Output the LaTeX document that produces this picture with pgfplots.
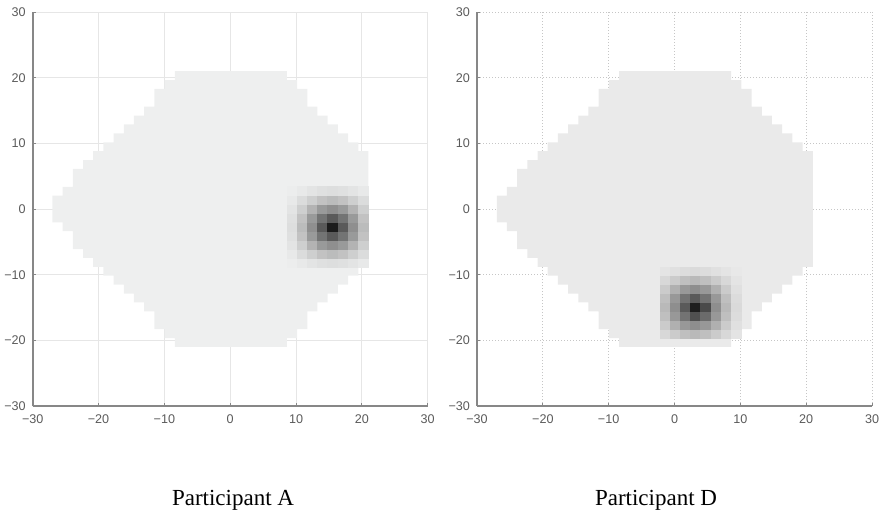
\documentclass[border=0pt]{standalone}
\usepackage{fontspec}
\setmainfont{Liberation Serif}
\newfontfamily\tickfont{Liberation Sans}
\usepackage{pgfplots}
\pgfplotsset{compat=1.18}
\definecolor{axgray}{RGB}{135,135,135}
\definecolor{tickgray}{RGB}{90,90,90}
\definecolor{gridgray}{RGB}{230,230,230}
\definecolor{shapeA}{RGB}{238,239,239}
\definecolor{shapeD}{RGB}{234,234,234}

\pgfplotsset{
  vf/.style={
    scale only axis, width=197.5pt, height=197pt,
    xmin=-30, xmax=30, ymin=-30, ymax=30,
    axis x line=bottom, axis y line=left,
    axis line style={-, draw=axgray, line width=0.8pt},
    xtick={-30,-20,-10,0,10,20,30}, ytick={-30,-20,-10,0,10,20,30},
    xticklabels={−30,−20,−10,0,10,20,30},
    yticklabels={−30,−20,−10,0,10,20,30},
    tick align=inside, major tick length=1.6pt,
    tick style={draw=axgray, line width=0.5pt},
    ticklabel style={font=\tickfont\fontsize{6.3}{7}\selectfont, text=tickgray},
    xticklabel style={yshift=-1pt},
    grid=major,
    point meta min=0, point meta max=1,
  },
  % one grid cell: 1.548 x 1.355 units
  cell/.style={scatter, only marks, point meta=explicit, mark=square*, mark size=2.55pt,
    scatter/use mapped color={draw=mapped color, fill=mapped color},
    every mark/.append style={yscale=0.873, line width=0.3pt}},
}

\begin{document}
\begin{tikzpicture}
\path[use as bounding box] (0,0) rectangle (443.5pt,257pt);

% Participant A
\begin{axis}[vf, at={(16.35pt,54pt)}, anchor=south west,
  grid style={draw=gridgray, line width=0.5pt},
  colormap={blobA}{rgb255(0cm)=(238,239,239) rgb255(1cm)=(28,28,28)}]
\addplot[fill=shapeA, draw=none] coordinates {
(-27,-2.032) (-27,2.032) (-25.452,2.032) (-25.452,3.387) (-23.903,3.387) (-23.903,6.097)
(-22.355,6.097) (-22.355,7.452) (-20.806,7.452) (-20.806,8.806) (-19.258,8.806) (-19.258,10.161)
(-17.710,10.161) (-17.710,11.516) (-16.161,11.516) (-16.161,12.871) (-14.613,12.871) (-14.613,14.226)
(-13.065,14.226) (-13.065,15.581) (-11.516,15.581) (-11.516,18.290) (-9.968,18.290) (-9.968,19.645)
(-8.419,19.645) (-8.419,21) (8.613,21) (8.613,19.645) (10.161,19.645) (10.161,18.290)
(11.710,18.290) (11.710,15.581) (13.258,15.581) (13.258,14.226) (14.806,14.226) (14.806,12.871)
(16.355,12.871) (16.355,11.516) (17.903,11.516) (17.903,10.161) (19.452,10.161) (19.452,8.806)
(21,8.806) (21,-8.806) (19.452,-8.806) (19.452,-10.161) (17.903,-10.161) (17.903,-11.516)
(16.355,-11.516) (16.355,-12.871) (14.806,-12.871) (14.806,-14.226) (13.258,-14.226) (13.258,-15.581)
(11.710,-15.581) (11.710,-18.290) (10.161,-18.290) (10.161,-19.645) (8.613,-19.645) (8.613,-21)
(-8.419,-21) (-8.419,-19.645) (-9.968,-19.645) (-9.968,-18.290) (-11.516,-18.290) (-11.516,-15.581)
(-13.065,-15.581) (-13.065,-14.226) (-14.613,-14.226) (-14.613,-12.871) (-16.161,-12.871) (-16.161,-11.516)
(-17.710,-11.516) (-17.710,-10.161) (-19.258,-10.161) (-19.258,-8.806) (-20.806,-8.806) (-20.806,-7.452)
(-22.355,-7.452) (-22.355,-6.097) (-23.903,-6.097) (-23.903,-3.387) (-25.452,-3.387) (-25.452,-2.032)
(-27,-2.032)};
% blob, cell centres
\addplot[cell] table[meta=c] {
x y c
9.387 -8.129 0.01
10.935 -8.129 0.03
12.484 -8.129 0.05
14.032 -8.129 0.07
15.581 -8.129 0.08
17.129 -8.129 0.07
18.677 -8.129 0.05
20.226 -8.129 0.03
9.387 -6.774 0.03
10.935 -6.774 0.09
12.484 -6.774 0.15
14.032 -6.774 0.21
15.581 -6.774 0.24
17.129 -6.774 0.21
18.677 -6.774 0.15
20.226 -6.774 0.09
9.387 -5.419 0.05
10.935 -5.419 0.15
12.484 -5.419 0.28
14.032 -5.419 0.40
15.581 -5.419 0.45
17.129 -5.419 0.40
18.677 -5.419 0.28
20.226 -5.419 0.15
9.387 -4.065 0.07
10.935 -4.065 0.21
12.484 -4.065 0.40
14.032 -4.065 0.58
15.581 -4.065 0.70
17.129 -4.065 0.58
18.677 -4.065 0.40
20.226 -4.065 0.21
9.387 -2.710 0.08
10.935 -2.710 0.24
12.484 -2.710 0.45
14.032 -2.710 0.70
15.581 -2.710 1.00
17.129 -2.710 0.70
18.677 -2.710 0.45
20.226 -2.710 0.24
9.387 -1.355 0.07
10.935 -1.355 0.21
12.484 -1.355 0.40
14.032 -1.355 0.58
15.581 -1.355 0.70
17.129 -1.355 0.58
18.677 -1.355 0.40
20.226 -1.355 0.21
9.387 0 0.05
10.935 0 0.15
12.484 0 0.28
14.032 0 0.40
15.581 0 0.45
17.129 0 0.40
18.677 0 0.28
20.226 0 0.15
9.387 1.355 0.03
10.935 1.355 0.09
12.484 1.355 0.15
14.032 1.355 0.21
15.581 1.355 0.24
17.129 1.355 0.21
18.677 1.355 0.15
20.226 1.355 0.09
9.387 2.710 0.01
10.935 2.710 0.03
12.484 2.710 0.05
14.032 2.710 0.07
15.581 2.710 0.08
17.129 2.710 0.07
18.677 2.710 0.05
20.226 2.710 0.03
};
\end{axis}

% Participant D
\begin{axis}[vf, at={(238.5pt,54pt)}, anchor=south west,
  grid style={draw=gray!45, line width=0.5pt, densely dotted},
  colormap={blobD}{rgb255(0cm)=(234,234,234) rgb255(1cm)=(30,30,30)}]
\addplot[fill=shapeD, draw=none] coordinates {
(-27,-2.032) (-27,2.032) (-25.452,2.032) (-25.452,3.387) (-23.903,3.387) (-23.903,6.097)
(-22.355,6.097) (-22.355,7.452) (-20.806,7.452) (-20.806,8.806) (-19.258,8.806) (-19.258,10.161)
(-17.710,10.161) (-17.710,11.516) (-16.161,11.516) (-16.161,12.871) (-14.613,12.871) (-14.613,14.226)
(-13.065,14.226) (-13.065,15.581) (-11.516,15.581) (-11.516,18.290) (-9.968,18.290) (-9.968,19.645)
(-8.419,19.645) (-8.419,21) (8.613,21) (8.613,19.645) (10.161,19.645) (10.161,18.290)
(11.710,18.290) (11.710,15.581) (13.258,15.581) (13.258,14.226) (14.806,14.226) (14.806,12.871)
(16.355,12.871) (16.355,11.516) (17.903,11.516) (17.903,10.161) (19.452,10.161) (19.452,8.806)
(21,8.806) (21,-8.806) (19.452,-8.806) (19.452,-10.161) (17.903,-10.161) (17.903,-11.516)
(16.355,-11.516) (16.355,-12.871) (14.806,-12.871) (14.806,-14.226) (13.258,-14.226) (13.258,-15.581)
(11.710,-15.581) (11.710,-18.290) (10.161,-18.290) (10.161,-19.645) (8.613,-19.645) (8.613,-21)
(-8.419,-21) (-8.419,-19.645) (-9.968,-19.645) (-9.968,-18.290) (-11.516,-18.290) (-11.516,-15.581)
(-13.065,-15.581) (-13.065,-14.226) (-14.613,-14.226) (-14.613,-12.871) (-16.161,-12.871) (-16.161,-11.516)
(-17.710,-11.516) (-17.710,-10.161) (-19.258,-10.161) (-19.258,-8.806) (-20.806,-8.806) (-20.806,-7.452)
(-22.355,-7.452) (-22.355,-6.097) (-23.903,-6.097) (-23.903,-3.387) (-25.452,-3.387) (-25.452,-2.032)
(-27,-2.032)};
\addplot[cell] table[meta=c] {
x y c
-1.452 -18.968 0.09
0.097 -18.968 0.15
1.645 -18.968 0.21
3.194 -18.968 0.24
4.742 -18.968 0.21
6.290 -18.968 0.15
7.839 -18.968 0.09
9.387 -18.968 0.03
-1.452 -17.613 0.15
0.097 -17.613 0.28
1.645 -17.613 0.40
3.194 -17.613 0.45
4.742 -17.613 0.40
6.290 -17.613 0.28
7.839 -17.613 0.15
9.387 -17.613 0.05
-1.452 -16.258 0.21
0.097 -16.258 0.40
1.645 -16.258 0.58
3.194 -16.258 0.75
4.742 -16.258 0.62
6.290 -16.258 0.40
7.839 -16.258 0.21
9.387 -16.258 0.07
-1.452 -14.903 0.24
0.097 -14.903 0.45
1.645 -14.903 0.70
3.194 -14.903 1.00
4.742 -14.903 0.78
6.290 -14.903 0.45
7.839 -14.903 0.24
9.387 -14.903 0.08
-1.452 -13.548 0.21
0.097 -13.548 0.40
1.645 -13.548 0.58
3.194 -13.548 0.70
4.742 -13.548 0.58
6.290 -13.548 0.40
7.839 -13.548 0.21
9.387 -13.548 0.07
-1.452 -12.194 0.15
0.097 -12.194 0.28
1.645 -12.194 0.40
3.194 -12.194 0.45
4.742 -12.194 0.40
6.290 -12.194 0.28
7.839 -12.194 0.15
9.387 -12.194 0.05
-1.452 -10.839 0.09
0.097 -10.839 0.15
1.645 -10.839 0.21
3.194 -10.839 0.24
4.742 -10.839 0.21
6.290 -10.839 0.15
7.839 -10.839 0.09
9.387 -10.839 0.03
-1.452 -9.484 0.03
0.097 -9.484 0.05
1.645 -9.484 0.07
3.194 -9.484 0.08
4.742 -9.484 0.07
6.290 -9.484 0.05
7.839 -9.484 0.03
9.387 -9.484 0.01
};
\end{axis}

\node[font=\fontsize{11.5}{13}\selectfont, anchor=base] at (116.5pt,4.5pt) {Participant A};
\node[font=\fontsize{11.5}{13}\selectfont, anchor=base] at (328pt,4.5pt) {Participant D};
\end{tikzpicture}
\end{document}
